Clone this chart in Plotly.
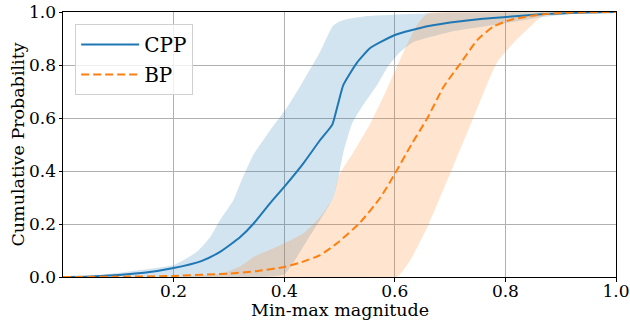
import plotly.graph_objects as go

# CPP mean curve
cpp_x = [0, 0.05, 0.1, 0.15, 0.2, 0.25, 0.284, 0.32, 0.344, 0.375, 0.4, 0.435, 0.465, 0.487,
         0.497, 0.507, 0.532, 0.556, 0.6, 0.646, 0.7, 0.755, 0.8, 0.87, 0.93, 1.0]
cpp_y = [0, 0.002, 0.008, 0.017, 0.034, 0.06, 0.095, 0.15, 0.20, 0.28, 0.34, 0.43, 0.517, 0.575,
         0.65, 0.725, 0.81, 0.865, 0.913, 0.94, 0.96, 0.974, 0.981, 0.992, 0.997, 1.0]

# BP mean curve
bp_x = [0, 0.1, 0.2, 0.3, 0.35, 0.4, 0.43, 0.465, 0.496, 0.537, 0.574, 0.603, 0.63, 0.659,
        0.688, 0.719, 0.749, 0.778, 0.809, 0.858, 0.9, 0.95, 1.0]
bp_y = [0, 0.001, 0.004, 0.013, 0.022, 0.038, 0.055, 0.083, 0.128, 0.205, 0.30, 0.40, 0.50, 0.60,
        0.717, 0.807, 0.894, 0.945, 0.97, 0.989, 0.996, 0.999, 1.0]

# CPP band
cpp_hi_x = [0, 0.05, 0.116, 0.2, 0.242, 0.266, 0.284, 0.308, 0.32, 0.344, 0.375, 0.405, 0.429,
            0.465, 0.489, 0.507, 0.55, 0.6, 0.7, 1.0]
cpp_hi_y = [0, 0.004, 0.02, 0.045, 0.095, 0.15, 0.215, 0.29, 0.35, 0.46, 0.555, 0.64, 0.72,
            0.85, 0.95, 0.97, 0.985, 0.99, 0.997, 1.0]
cpp_lo_x = [0, 0.3, 0.36, 0.40, 0.445, 0.489, 0.498, 0.507, 0.523, 0.543, 0.568, 0.586, 0.61,
            0.634, 0.7, 0.755, 0.85, 0.92, 1.0]
cpp_lo_y = [0, 0, 0.0, 0.01, 0.15, 0.30, 0.377, 0.47, 0.58, 0.65, 0.725, 0.79, 0.85,
            0.887, 0.925, 0.943, 0.975, 0.993, 1.0]

# BP band
bp_hi_x = [0, 0.2, 0.28, 0.32, 0.344, 0.393, 0.435, 0.465, 0.489, 0.498, 0.525, 0.556, 0.586,
           0.616, 0.64, 0.659, 0.7, 1.0]
bp_hi_y = [0, 0.0, 0.01, 0.04, 0.075, 0.12, 0.165, 0.227, 0.30, 0.38, 0.47, 0.58, 0.71,
           0.85, 0.95, 0.995, 1.0, 1.0]
bp_lo_x = [0, 0.5, 0.604, 0.628, 0.659, 0.706, 0.742, 0.785, 0.82, 0.858, 0.87, 0.9, 1.0]
bp_lo_y = [0, 0, 0.0, 0.064, 0.19, 0.42, 0.60, 0.81, 0.895, 0.97, 0.99, 0.998, 1.0]

x_ticks = [0.2, 0.4, 0.6, 0.8, 1.0]
y_ticks = [0.0, 0.2, 0.4, 0.6, 0.8, 1.0]
x_title = "Min-max magnitude"
y_title = "Cumulative Probability"

BLUE = "#1f77b4"
ORANGE = "#ff7f0e"
FONT = "DejaVu Serif"
FS_TICK = 17
FS_TITLE = 17.5
FS_LEG = 20

fig = go.Figure()


def band(xh, yh, xl, yl, color):
    return go.Scatter(x=list(xh) + list(xl)[::-1], y=list(yh) + list(yl)[::-1],
                      fill="toself", fillcolor=color, mode="lines",
                      line=dict(width=0, shape="spline", smoothing=0.5),
                      showlegend=False, hoverinfo="skip")


fig.add_trace(band(cpp_hi_x, cpp_hi_y, cpp_lo_x, cpp_lo_y, "rgba(31,119,180,0.2)"))
fig.add_trace(band(bp_hi_x, bp_hi_y, bp_lo_x, bp_lo_y, "rgba(255,127,14,0.2)"))
fig.add_trace(go.Scatter(x=cpp_x, y=cpp_y, mode="lines", name="CPP", legendgroup="a",
                         line=dict(color=BLUE, width=2, shape="spline", smoothing=0.5)))
fig.add_trace(go.Scatter(x=bp_x, y=bp_y, mode="lines", name="BP", legendgroup="b",
                         line=dict(color=ORANGE, width=2, dash="8px,4px",
                                   shape="spline", smoothing=0.5)))

axis_common = dict(showline=True, linecolor="black", linewidth=1, mirror=True,
                   ticks="outside", ticklen=3.5, tickcolor="black",
                   showgrid=True, gridcolor="#b0b0b0", gridwidth=1, zeroline=False,
                   ticklabeloverflow="allow",
                   tickfont=dict(family=FONT, size=FS_TICK, color="black"))

fig.update_xaxes(range=[0, 1], tickvals=x_ticks, ticktext=[f"{v:.1f}" for v in x_ticks],
                 ticklabelstandoff=-5, **axis_common)
fig.update_yaxes(range=[0, 1], tickvals=y_ticks, ticktext=[f"{v:.1f}" for v in y_ticks],
                 ticklabelstandoff=-1, **axis_common)

# axis titles placed as annotations (tight placement like the reference)
fig.add_annotation(text=x_title, xref="paper", yref="paper", x=0.5, y=-0.125,
                   xanchor="center", yanchor="middle", showarrow=False,
                   font=dict(family=FONT, size=FS_TITLE, color="black"))
fig.add_annotation(text=y_title, xref="paper", yref="paper", x=-0.083, y=0.5,
                   xanchor="center", yanchor="middle", showarrow=False, textangle=-90,
                   font=dict(family=FONT, size=FS_TITLE, color="black"))

fig.update_layout(
    width=630, height=327,
    margin=dict(l=63, r=14, t=12, b=50, autoexpand=False),
    plot_bgcolor="white", paper_bgcolor="white",
    font=dict(family=FONT, size=FS_TICK, color="black"),
    legend=dict(x=0.022, y=0.955, xanchor="left", yanchor="top",
                bgcolor="rgba(255,255,255,0.8)", bordercolor="#d0d0d0", borderwidth=1,
                font=dict(family=FONT, size=FS_LEG, color="black"), itemwidth=58,
                tracegroupgap=1),
)

fig.write_html("out.html")
